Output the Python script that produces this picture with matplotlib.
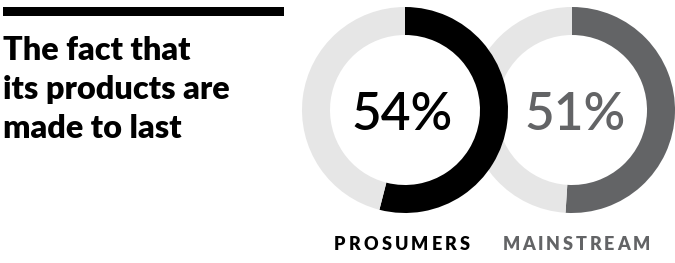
import matplotlib
matplotlib.use("Agg")
import matplotlib.pyplot as plt
from matplotlib import font_manager as fm
from matplotlib.patches import Circle, Rectangle

# data
title_lines = ["The fact that", "its products are", "made to last"]
groups = ["PROSUMERS", "MAINSTREAM"]
values = [54, 51]
colors = ["#000000", "#636466"]
rest_color = "#e6e6e6"


def lato(styles, size):
    # pick the first Lato file found from the list of styles
    for style in styles:
        for f in fm.fontManager.ttflist:
            if f.fname.endswith('Lato-' + style + '.ttf'):
                return fm.FontProperties(fname=f.fname, size=size)
    return fm.FontProperties(family='Lato', weight='bold', size=size)


W, H = 675, 263
fig = plt.figure(figsize=(W / 100, H / 100), dpi=100)
ax = fig.add_axes([0, 0, 1, 1])

centers = [(405, H - 110), (572, H - 110)]
R = 103
ring = 28

# second donut goes behind the first one
for i in [1, 0]:
    cx, cy = centers[i]
    z = 2 if i == 1 else 4
    if i == 0:
        ax.add_patch(Circle((cx, cy), R, facecolor='white', edgecolor='none', zorder=3))
    ax.pie([values[i], 100 - values[i]], colors=[colors[i], rest_color],
           center=(cx, cy), radius=R, startangle=90, counterclock=False,
           wedgeprops=dict(width=ring, edgecolor='none', zorder=z), frame=True)
    ax.text(cx - 3 if i == 0 else cx + 3, H - 130, f"{values[i]}%", ha='center', va='baseline',
            fontproperties=lato(['Semibold', 'SemiBold', 'Medium'], 37), color=colors[i], zorder=6)

ax.set_xlim(0, W)
ax.set_ylim(0, H)
ax.set_aspect('equal')
ax.axis('off')

# black bar on top
ax.add_patch(Rectangle((3, H - 15.5), 281, 8.5, facecolor='black', edgecolor='none'))

# title
for k, line in enumerate(title_lines):
    ax.text(3, H - (60 + 39 * k), line, ha='left', va='baseline',
            fontproperties=lato(['ExtraBold', 'Heavy', 'Bold'], 23.3), color='black')

# letter-spaced labels under the donuts
renderer = fig.canvas.get_renderer()
def tracked(x_center, y, s, color, track):
    parts = []
    widths = []
    for ch in s:
        t = ax.text(0, y, ch, ha='left', va='baseline',
                    fontproperties=lato(['ExtraBold', 'Heavy', 'Bold'], 13), color=color)
        bb = t.get_window_extent(renderer)
        parts.append(t)
        widths.append(bb.width)
    total = sum(widths) + track * (len(s) - 1)
    x = x_center - total / 2
    for t, w in zip(parts, widths):
        t.set_x(x)
        x += w + track

tracked(402, H - 249.5, groups[0], colors[0], 3.2)
tracked(576, H - 249.5, groups[1], colors[1], 2.8)

fig.savefig("out.png", dpi=100)
